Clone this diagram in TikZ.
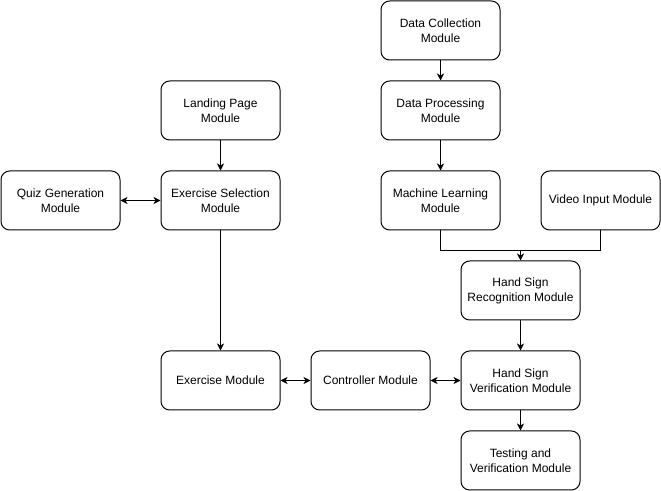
\documentclass[tikz,border=0pt]{standalone}
\usepackage{fontspec}
\setmainfont{Liberation Sans}
\usetikzlibrary{arrows.meta}
\begin{document}
\begin{tikzpicture}[x=0.75pt,y=-0.75pt,
  mod/.style={draw=black,fill=white,line width=0.75pt,rounded corners=6.5pt,
    minimum width=89.25pt,minimum height=44.25pt,inner sep=1pt,align=center,
    font=\fontsize{9pt}{11.25pt}\selectfont},
  conn/.style={line width=0.75pt,-{Stealth[length=5.25pt,width=5.25pt,inset=1.5pt]}},
  bconn/.style={line width=0.75pt,{Stealth[length=5.25pt,width=5.25pt,inset=1.5pt]}-{Stealth[length=5.25pt,width=5.25pt,inset=1.5pt]}}]
\useasboundingbox[fill=white] (0,0) rectangle (661,491);
\node[mod] (dc) at (440.5,30.5) {Data Collection\\Module};
\node[mod] (dp) at (440.5,110.5) {Data Processing\\Module};
\node[mod] (lp) at (220.5,110.5) {Landing Page\\Module};
\node[mod] (qg) at (60.5,200.5) {Quiz Generation\\Module};
\node[mod] (es) at (220.5,200.5) {Exercise Selection\\Module};
\node[mod] (ml) at (440.5,200.5) {Machine Learning\\Module};
\node[mod] (vi) at (600.5,200.5) {Video Input Module};
\node[mod] (hsr) at (520.5,290.5) {Hand Sign\\Recognition Module};
\node[mod] (em) at (220.5,380.5) {Exercise Module};
\node[mod] (cm) at (370.5,380.5) {Controller Module};
\node[mod] (hsv) at (520.5,380.5) {Hand Sign\\Verification Module};
\node[mod] (tv) at (520.5,460.5) {Testing and\\Verification Module};
\coordinate (j) at (520.5,250.5);
\draw[conn] (dc) -- (dp);
\draw[conn] (dp) -- (ml);
\draw[conn] (lp) -- (es);
\draw[bconn] (qg) -- (es);
\draw[conn] (es) -- (em);
\draw[line width=0.75pt] (ml.south) |- (j);
\draw[line width=0.75pt] (vi.south) |- (j);
\draw[conn] (j) -- (hsr);
\draw[conn] (hsr) -- (hsv);
\draw[bconn] (em) -- (cm);
\draw[bconn] (cm) -- (hsv);
\draw[conn] (hsv) -- (tv);
\end{tikzpicture}
\end{document}
